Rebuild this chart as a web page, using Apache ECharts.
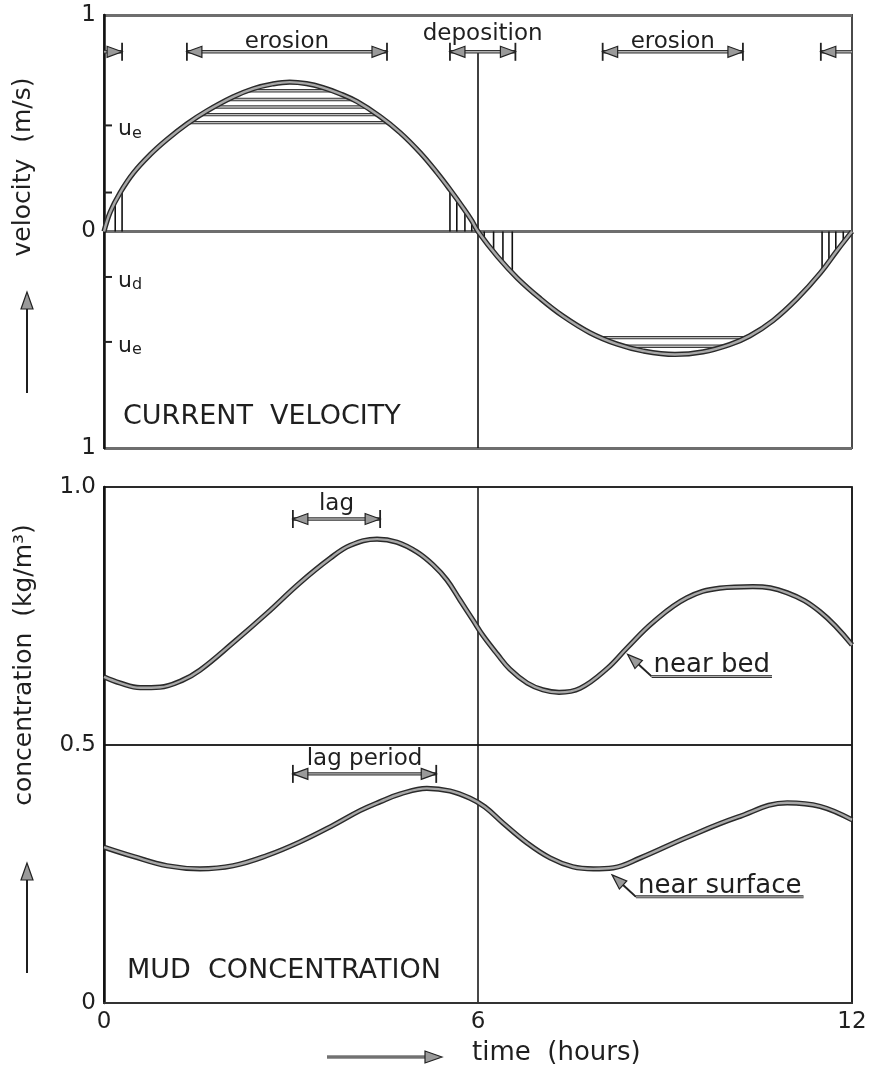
<!DOCTYPE html>
<html>
<head>
<meta charset="utf-8">
<script src="https://cdn.jsdelivr.net/npm/echarts@6/dist/echarts.min.js"></script>
<style>
  html, body { margin: 0; padding: 0; background: #fff; }
  #chart { width: 870px; height: 1072px; }
</style>
</head>
<body>
<div id="chart"></div>
<script>
// Tidal cycle over 12 hours: current velocity (top) and mud concentration (bottom)

// time axis (hours)
const timeTicks = [0, 6, 12];

// current velocity [hour, m/s] (ebb plotted below zero)
const velocity = [
  [0, 0], [0.1, 0.09], [0.26, 0.18], [0.47, 0.27], [0.74, 0.355], [1.01, 0.425],
  [1.33, 0.497], [1.65, 0.557], [2.07, 0.622], [2.4, 0.66], [2.7, 0.681], [2.98, 0.69],
  [3.25, 0.683], [3.51, 0.665], [3.78, 0.637], [4.06, 0.6], [4.43, 0.531], [4.75, 0.457],
  [5.07, 0.365], [5.34, 0.273], [5.55, 0.194], [5.76, 0.11], [5.9, 0.05], [6.0, 0],
  [6.31, -0.115], [6.63, -0.215], [7.0, -0.31], [7.36, -0.39], [7.8, -0.468], [8.23, -0.52],
  [8.65, -0.552], [9.16, -0.568], [9.61, -0.556], [10.04, -0.522], [10.36, -0.482],
  [10.73, -0.412], [11.12, -0.31], [11.49, -0.192], [11.76, -0.088], [12, 0]
];

// mud concentration near the bed [hour, kg/m3]
const nearBed = [
  [0, 0.632], [0.26, 0.62], [0.58, 0.611], [0.9, 0.612], [1.25, 0.625], [1.54, 0.645],
  [2.07, 0.698], [2.62, 0.756], [3.14, 0.814], [3.63, 0.862], [3.95, 0.887], [4.38, 0.899],
  [4.7, 0.893], [5.02, 0.874], [5.28, 0.849], [5.5, 0.82], [5.71, 0.781], [5.92, 0.742],
  [6.08, 0.712], [6.31, 0.676], [6.51, 0.647], [6.79, 0.62], [7.04, 0.607], [7.3, 0.602],
  [7.64, 0.61], [8.07, 0.648], [8.39, 0.688], [8.81, 0.738], [9.35, 0.785], [9.88, 0.804],
  [10.41, 0.807], [10.96, 0.795], [11.49, 0.758], [12, 0.694]
];

// mud concentration near the surface [hour, kg/m3]
const nearSurface = [
  [0, 0.302], [0.47, 0.284], [1.01, 0.266], [1.54, 0.26], [2.07, 0.266], [2.62, 0.286],
  [3.14, 0.312], [3.67, 0.344], [4.11, 0.373], [4.43, 0.39], [4.75, 0.405], [5.18, 0.416],
  [5.55, 0.411], [5.87, 0.397], [6.11, 0.38], [6.4, 0.349], [6.79, 0.31], [7.16, 0.281],
  [7.52, 0.264], [7.85, 0.26], [8.17, 0.262], [8.6, 0.281], [9.35, 0.321], [10.16, 0.36],
  [10.96, 0.388], [11.49, 0.381], [12, 0.355]
];

// critical velocities marked on the velocity axis
const criticalValues = [0.49, 0.18, -0.21, -0.51];
const criticalSubscripts = ['e', '', 'd', 'e'];

// velocity levels hatched as erosion, and hours hatched as deposition
const erosionHatchLevels = [0.503, 0.54, 0.575, 0.61, 0.65, -0.49, -0.53];
const depositionHatchHours = [0.18, 0.29, 5.55, 5.66, 5.79, 5.9, 6.1, 6.25, 6.4, 6.55, 11.52, 11.63, 11.74, 11.86];

// periods marked above the velocity curve [start, end]
const velocityPeriods = [[0, 0.29], [1.33, 4.54], [5.55, 6.6], [8.0, 10.25], [11.5, 12]];
const velocityPeriodLabels = ['', 'erosion', 'deposition', 'erosion', ''];
const velocityPeriodHeads = ['right', 'both', 'both', 'both', 'left'];
const velocityPeriodLevel = 0.83;

// lag periods marked over the concentration curves [start, end, level]
const lagPeriods = [[3.03, 4.43, 0.938], [3.03, 5.33, 0.444]];
const lagPeriodLabels = ['lag', 'lag period'];

// curve labels: hour where the pointer touches each curve
const curveLabelHours = [8.4, 8.15];
const curveLabels = ['near bed', 'near surface'];

const FONT = '"DejaVu Sans", "Noto Sans", sans-serif';
const INK = '#1f1f1f';

function crossings(curve, level) {
  const out = [];
  for (let i = 1; i < curve.length; i++) {
    const [t0, v0] = curve[i - 1], [t1, v1] = curve[i];
    if ((v0 < level && v1 >= level) || (v0 > level && v1 <= level)) {
      out.push(t0 + (level - v0) * (t1 - t0) / (v1 - v0));
    }
  }
  return out;
}
function valueAt(curve, t) {
  for (let i = 1; i < curve.length; i++) {
    const [t0, v0] = curve[i - 1], [t1, v1] = curve[i];
    if (t >= t0 && t <= t1) return v0 + (v1 - v0) * (t - t0) / (t1 - t0);
  }
  return curve[curve.length - 1][1];
}

const hatchSegments = erosionHatchLevels.map(l => {
  const c = crossings(velocity, l);
  return [c[0], c[1], l];
});
const hatchVerticals = depositionHatchHours.map(t => [t, valueAt(velocity, t)]);
const velocitySpanData = velocityPeriods.map(p => [p[0], p[1], velocityPeriodLevel]);
const curvePointers = [
  [curveLabelHours[0], valueAt(nearBed, curveLabelHours[0])],
  [curveLabelHours[1], valueAt(nearSurface, curveLabelHours[1])]
];

const measureCtx = document.createElement('canvas').getContext('2d');
function textWidth(text, font) { measureCtx.font = font; return measureCtx.measureText(text).width; }

function txt(x, y, text, size, align, vAlign, extra) {
  return Object.assign({
    type: 'text', x: x, y: y, silent: true,
    style: {
      text: text, fill: INK, font: size + 'px ' + FONT,
      align: align, textAlign: align, verticalAlign: vAlign, textVerticalAlign: vAlign
    }
  }, extra || {});
}

// double-headed period arrow with end bars
function periodArrow(a, b, heads) {
  const y = a[1];
  const children = [
    { type: 'line', shape: { x1: a[0], y1: y, x2: b[0], y2: y }, style: { stroke: '#333', lineWidth: 3.4 } },
    { type: 'line', shape: { x1: a[0], y1: y, x2: b[0], y2: y }, style: { stroke: '#b0b0b0', lineWidth: 1.4 } }
  ];
  const L = 15, H = 5.5;
  const addHead = (x, dir) => {
    children.push({ type: 'polygon', shape: { points: [[x, y], [x - dir * L, y - H], [x - dir * L, y + H]] },
      style: { fill: '#9a9a9a', stroke: '#222', lineWidth: 1.2 } });
    children.push({ type: 'line', shape: { x1: x, y1: y - 9, x2: x, y2: y + 9 }, style: { stroke: '#222', lineWidth: 1.8 } });
  };
  if (heads === 'left' || heads === 'both') addHead(a[0], -1);
  if (heads === 'right' || heads === 'both') addHead(b[0], 1);
  return children;
}

function curveSeries(data, xi, yi, z) {
  return [
    { type: 'line', xAxisIndex: xi, yAxisIndex: yi, data: data, smooth: 0.4, showSymbol: false, silent: true,
      z: z, lineStyle: { color: '#2a2a2a', width: 5.2 } },
    { type: 'line', xAxisIndex: xi, yAxisIndex: yi, data: data, smooth: 0.4, showSymbol: false, silent: true,
      z: z + 1, lineStyle: { color: '#a8a8a8', width: 2.4 } }
  ];
}

function upArrow(x, y1, y2) {
  return [
    { type: 'line', shape: { x1: x, y1: y1, x2: x, y2: y2 + 12 }, style: { stroke: INK, lineWidth: 2 }, silent: true },
    { type: 'polygon', shape: { points: [[x, y2], [x - 6, y2 + 17], [x + 6, y2 + 17]] },
      style: { fill: '#9a9a9a', stroke: '#222', lineWidth: 1.2 }, silent: true }
  ];
}

const chart = echarts.init(document.getElementById('chart'));

const option = {
  animation: false,
  backgroundColor: '#fff',
  grid: [
    { left: 104, top: 15, width: 748, height: 433, show: true, borderColor: '#4a4a4a', borderWidth: 2, backgroundColor: 'transparent' },
    { left: 104, top: 487, width: 748, height: 516, show: true, borderColor: '#4a4a4a', borderWidth: 2, backgroundColor: 'transparent' }
  ],
  xAxis: [
    { gridIndex: 0, type: 'value', min: timeTicks[0], max: timeTicks[2], interval: 6,
      axisLine: { show: false }, axisTick: { show: false }, axisLabel: { show: false }, splitLine: { show: false } },
    { gridIndex: 1, type: 'value', min: timeTicks[0], max: timeTicks[2], interval: 6,
      axisLine: { show: true, lineStyle: { color: '#333', width: 2 } }, axisTick: { show: false },
      axisLabel: { show: true, fontSize: 23, fontFamily: FONT, color: INK, margin: 8,
        formatter: v => timeTicks.indexOf(v) >= 0 ? String(v) : '' },
      splitLine: { show: true, lineStyle: { color: '#1a1a1a', width: 1.6 } } }
  ],
  yAxis: [
    { gridIndex: 0, type: 'value', min: -1, max: 1, interval: 1,
      axisLine: { show: true, onZero: false, lineStyle: { color: '#111', width: 2.5 } }, axisTick: { show: false },
      axisLabel: { fontSize: 23, fontFamily: FONT, color: INK, margin: 8, formatter: v => String(Math.abs(v)) },
      splitLine: { show: true, lineStyle: { color: '#6e6e6e', width: 3 } } },
    { gridIndex: 1, type: 'value', min: 0, max: 1, interval: 0.5,
      axisLine: { show: true, onZero: false, lineStyle: { color: '#111', width: 2.5 } }, axisTick: { show: false },
      axisLabel: { fontSize: 23, fontFamily: FONT, color: INK, margin: 8,
        formatter: v => v === 0 ? '0' : v.toFixed(1) },
      splitLine: { show: true, lineStyle: { color: '#2a2a2a', width: 2 } } }
  ],
  series: [
    // erosion hatching (horizontal strokes between the curve crossings)
    { type: 'custom', xAxisIndex: 0, yAxisIndex: 0, silent: true, z: 2, data: hatchSegments,
      encode: { x: [0, 1], y: 2 },
      renderItem: (params, api) => {
        const a = api.coord([api.value(0), api.value(2)]);
        const b = api.coord([api.value(1), api.value(2)]);
        return { type: 'group', children: [
          { type: 'line', shape: { x1: a[0], y1: a[1], x2: b[0], y2: b[1] }, style: { stroke: '#3a3a3a', lineWidth: 3.4 } },
          { type: 'line', shape: { x1: a[0], y1: a[1], x2: b[0], y2: b[1] }, style: { stroke: '#bdbdbd', lineWidth: 1.4 } }
        ] };
      } },
    // deposition hatching (vertical strokes down to zero)
    { type: 'custom', xAxisIndex: 0, yAxisIndex: 0, silent: true, z: 2, data: hatchVerticals,
      encode: { x: 0, y: 1 },
      renderItem: (params, api) => {
        const a = api.coord([api.value(0), 0]);
        const b = api.coord([api.value(0), api.value(1)]);
        return { type: 'line', shape: { x1: a[0], y1: a[1], x2: b[0], y2: b[1] }, style: { stroke: '#111', lineWidth: 1.6 } };
      } },
    // slack-water guide at 6 h in the velocity panel
    { type: 'custom', xAxisIndex: 0, yAxisIndex: 0, silent: true, z: 2, data: [[timeTicks[1], velocityPeriodLevel]],
      encode: { x: 0, y: 1 },
      renderItem: (params, api) => {
        const a = api.coord([api.value(0), api.value(1)]);
        const b = api.coord([api.value(0), -1]);
        return { type: 'line', shape: { x1: a[0], y1: a[1], x2: b[0], y2: b[1] }, style: { stroke: '#111', lineWidth: 1.6 } };
      } },
    // critical velocity marks
    { type: 'custom', xAxisIndex: 0, yAxisIndex: 0, silent: true, z: 5,
      data: criticalValues.map(v => [0, v]), encode: { x: 0, y: 1 },
      renderItem: (params, api) => {
        const p = api.coord([0, api.value(1)]);
        const sub = criticalSubscripts[params.dataIndex];
        const children = [{ type: 'line', shape: { x1: p[0], y1: p[1], x2: p[0] + 8, y2: p[1] }, style: { stroke: '#222', lineWidth: 2 } }];
        if (sub) {
          children.push(txt(p[0] + 14, p[1] + 4, 'u', 22, 'left', 'middle'));
          children.push(txt(p[0] + 28, p[1] + 8, sub, 16, 'left', 'middle'));
        }
        return { type: 'group', children: children };
      } },
    // erosion / deposition periods
    { type: 'custom', xAxisIndex: 0, yAxisIndex: 0, silent: true, z: 6, data: velocitySpanData,
      encode: { x: [0, 1], y: 2 },
      renderItem: (params, api) => {
        const i = params.dataIndex;
        const a = api.coord([api.value(0), api.value(2)]);
        const b = api.coord([api.value(1), api.value(2)]);
        const children = periodArrow(a, b, velocityPeriodHeads[i]);
        const label = velocityPeriodLabels[i];
        if (label) {
          const gap = label === 'deposition' ? 6 : -2;
          children.push(txt((a[0] + b[0]) / 2, a[1] - gap, label, 23, 'center', 'bottom'));
        }
        return { type: 'group', children: children };
      } },
    ...curveSeries(velocity, 0, 0, 3),
    // lag periods
    { type: 'custom', xAxisIndex: 1, yAxisIndex: 1, silent: true, z: 6, data: lagPeriods,
      encode: { x: [0, 1], y: 2 },
      renderItem: (params, api) => {
        const a = api.coord([api.value(0), api.value(2)]);
        const b = api.coord([api.value(1), api.value(2)]);
        const children = periodArrow(a, b, 'both');
        children.push(txt((a[0] + b[0]) / 2, a[1] - 3, lagPeriodLabels[params.dataIndex], 23, 'center', 'bottom'));
        return { type: 'group', children: children };
      } },
    ...curveSeries(nearBed, 1, 1, 3),
    ...curveSeries(nearSurface, 1, 1, 3),
    // curve labels with pointers
    { type: 'custom', xAxisIndex: 1, yAxisIndex: 1, silent: true, z: 7, data: curvePointers,
      encode: { x: 0, y: 1 },
      renderItem: (params, api) => {
        const p = api.coord([api.value(0), api.value(1)]);
        const tip = [p[0], p[1] + 7];
        const knee = [tip[0] + 24, tip[1] + 22];
        const label = curveLabels[params.dataIndex];
        const size = 26;
        const w = textWidth(label, size + 'px ' + FONT);
        const dx = tip[0] - knee[0], dy = tip[1] - knee[1];
        const len = Math.hypot(dx, dy), ux = dx / len, uy = dy / len;
        const L = 15, H = 5.5;
        const base = [tip[0] - ux * L, tip[1] - uy * L];
        const nx = -uy, ny = ux;
        return { type: 'group', children: [
          { type: 'line', shape: { x1: knee[0], y1: knee[1], x2: base[0], y2: base[1] }, style: { stroke: '#222', lineWidth: 2 } },
          { type: 'polygon', shape: { points: [tip, [base[0] + nx * H, base[1] + ny * H], [base[0] - nx * H, base[1] - ny * H]] },
            style: { fill: '#9a9a9a', stroke: '#222', lineWidth: 1.2 } },
          { type: 'line', shape: { x1: knee[0], y1: knee[1], x2: knee[0] + w + 4, y2: knee[1] }, style: { stroke: '#333', lineWidth: 3 } },
          { type: 'line', shape: { x1: knee[0], y1: knee[1], x2: knee[0] + w + 4, y2: knee[1] }, style: { stroke: '#b0b0b0', lineWidth: 1.2 } },
          txt(knee[0] + 2, knee[1] + 2, label, size, 'left', 'bottom')
        ] };
      } }
  ],
  graphic: [
    txt(123, 417, 'CURRENT  VELOCITY', 27, 'left', 'middle'),
    txt(127, 971, 'MUD  CONCENTRATION', 27, 'left', 'middle'),
    txt(23, 167, 'velocity  (m/s)', 25, 'center', 'middle', { rotation: Math.PI / 2 }),
    txt(24, 665, 'concentration  (kg/m³)', 25, 'center', 'middle', { rotation: Math.PI / 2 }),
    txt(472, 1053, 'time  (hours)', 26, 'left', 'middle'),
    ...upArrow(27, 393, 292),
    ...upArrow(27, 973, 863),
    { type: 'line', shape: { x1: 327, y1: 1057, x2: 428, y2: 1057 }, style: { stroke: '#333', lineWidth: 3 }, silent: true },
    { type: 'line', shape: { x1: 327, y1: 1057, x2: 428, y2: 1057 }, style: { stroke: '#b0b0b0', lineWidth: 1.2 }, silent: true },
    { type: 'polygon', shape: { points: [[442, 1057], [425, 1051], [425, 1063]] },
      style: { fill: '#9a9a9a', stroke: '#222', lineWidth: 1.2 }, silent: true }
  ]
};

chart.setOption(option);
</script>
</body>
</html>
